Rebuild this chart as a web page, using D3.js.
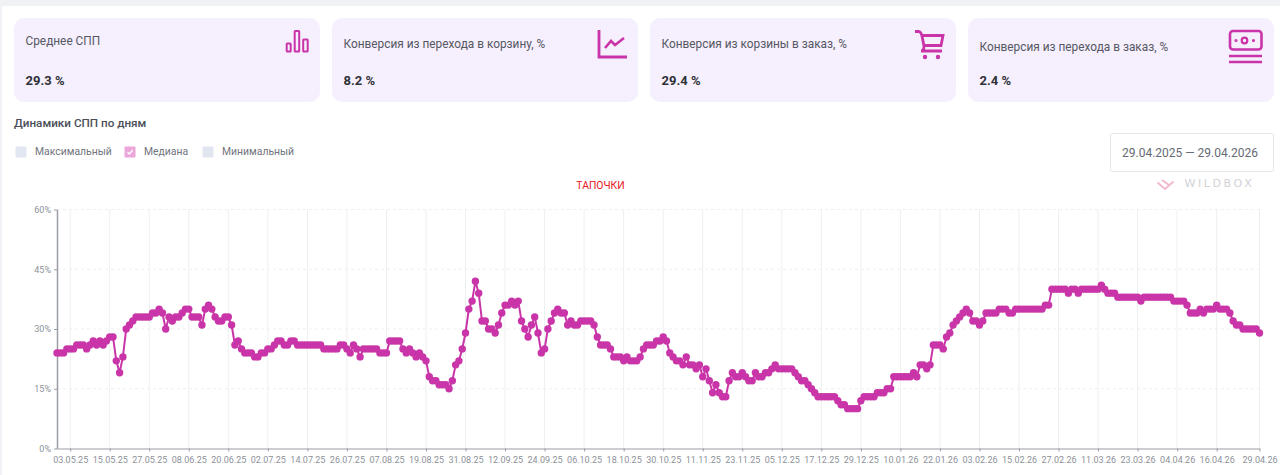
<!DOCTYPE html>
<html>
<head>
<meta charset="utf-8">
<script src="https://cdn.jsdelivr.net/npm/d3@7/dist/d3.min.js"></script>
<style>
html, body { margin: 0; padding: 0; background: #fff; overflow: hidden; }
text { font-family: Roboto, sans-serif; }
</style>
</head>
<body>
<div id="chart-area"></div>
<script>
var cardTitles = ["Среднее СПП", "Конверсия из перехода в корзину, %", "Конверсия из корзины в заказ, %", "Конверсия из перехода в заказ, %"];
var cardValues = ["29.3 %", "8.2 %", "29.4 %", "2.4 %"];
var legendNames = ["Максимальный", "Медиана", "Минимальный"];
var legendChecked = [false, true, false];
var yTicks = [0, 15, 30, 45, 60];
var tickLabels = ["03.05.25","15.05.25","27.05.25","08.06.25","20.06.25","02.07.25","14.07.25","26.07.25","07.08.25","19.08.25","31.08.25","12.09.25","24.09.25","06.10.25","18.10.25","30.10.25","11.11.25","23.11.25","05.12.25","17.12.25","29.12.25","10.01.26","22.01.26","03.02.26","15.02.26","27.02.26","11.03.26","23.03.26","04.04.26","16.04.26","29.04.26"];

// median per day, 29.04.25 - 29.04.26
var median = [
24,24,24,25,25,25,26,26,26,25,26,27,26,27,26,27,28,28,22,19,23,30,31,32,33,33,33,33,33,34,34,35,34,30,33,32,33,33,34,35,
35,33,33,33,31,35,36,35,33,32,32,33,33,31,26,27,25,24,24,24,23,23,24,24,25,25,26,27,27,26,26,27,27,26,26,26,26,26,26,26,
26,25,25,25,25,25,26,26,25,24,26,25,23,25,25,25,25,25,24,24,24,27,27,27,27,25,24,25,24,23,24,23,22,18,17,17,16,16,16,15,
17,21,22,25,29,35,37,42,39,32,32,30,30,29,31,34,36,36,37,36,37,32,30,28,31,33,29,24,25,30,32,34,35,34,34,31,32,31,31,32,
32,32,32,31,28,26,26,26,25,23,23,23,22,23,22,22,22,23,25,26,26,26,27,27,28,27,24,23,22,22,21,23,21,21,20,21,18,20,17,14,
16,14,13,13,17,19,18,18,19,18,17,17,19,18,18,19,19,20,21,20,20,20,20,20,19,18,17,17,16,15,14,13,13,13,13,13,13,12,11,11,
10,10,10,10,12,13,13,13,13,14,14,14,15,15,18,18,18,18,18,18,19,18,21,21,20,21,26,26,26,25,28,29,31,32,33,34,35,34,32,32,
31,32,34,34,34,34,35,35,35,34,34,35,35,35,35,35,35,35,35,35,36,36,40,40,40,40,40,39,40,40,39,40,40,40,40,40,40,41,40,39,
39,39,38,38,38,38,38,38,38,37,38,38,38,38,38,38,38,38,38,37,37,37,37,36,34,34,34,35,34,35,35,35,36,35,35,35,34,32,31,31,
30,30,30,30,30,29
];
var days = d3.timeDay.range(new Date(2025, 3, 29), new Date(2026, 3, 30));
var fmt = d3.timeFormat("%d.%m.%y");
var labels = days.map(fmt);

var pink = "#c935a8";

var svg = d3.select("#chart-area").append("svg")
    .attr("width", 1280)
    .attr("height", 475)
    .style("display", "block");

// page frame
svg.append("rect").attr("width", 1280).attr("height", 475).attr("fill", "#f0f2f6");
svg.append("rect").attr("x", 2).attr("y", 6).attr("width", 1278).attr("height", 469).attr("fill", "#fff");

// cards
var cardX = d3.scaleLinear().domain([0, 1]).range([14, 332]);
var titleY = [45, 48, 48, 51];
var cards = svg.selectAll(".card")
    .data(cardTitles)
    .enter().append("g")
    .attr("class", "card")
    .attr("transform", (d, i) => "translate(" + cardX(i) + ",18)");

cards.append("rect")
    .attr("width", 306)
    .attr("height", 84)
    .attr("rx", 10)
    .attr("fill", "#f6effe");

cards.append("text")
    .attr("x", 11.5)
    .attr("y", (d, i) => titleY[i] - 18)
    .attr("font-size", "11.85px")
    .attr("fill", "#555862")
    .text(d => d);

cards.append("text")
    .attr("x", 11.5)
    .attr("y", 67)
    .attr("font-size", "13px")
    .attr("font-weight", "700")
    .attr("fill", "#2f3137")
    .text((d, i) => cardValues[i]);

// card icons
var icon = svg.append("g").attr("fill", "none").attr("stroke", pink).attr("stroke-width", 2);
// bars
[[286.7, 43.5, 4, 8], [294.7, 31, 4.5, 20.5], [303.2, 39.5, 4.5, 12]].forEach(b => {
    icon.append("rect").attr("x", b[0]).attr("y", b[1]).attr("width", b[2]).attr("height", b[3]).attr("rx", 0.6);
});
// line chart
icon.append("path").attr("stroke-width", 2.8).attr("d", "M599 30V57H627");
icon.append("path").attr("stroke-width", 2.6).attr("d", "M605 48L611 41L615 45L624 38");
// cart
icon.append("path").attr("stroke-width", 2.8).attr("d", "M915 31.5H919Q921 32 922 36L924 46Q924 51 921 51H942");
icon.append("path").attr("stroke-width", 2.8).attr("d", "M922 35.5H943L941 45.5H924");
icon.append("circle").attr("cx", 925).attr("cy", 57).attr("r", 1.2).attr("fill", pink);
icon.append("circle").attr("cx", 938).attr("cy", 57).attr("r", 1.2).attr("fill", pink);
// money
icon.append("rect").attr("x", 1230).attr("y", 31).attr("width", 31.5).attr("height", 18.5).attr("rx", 3).attr("stroke-width", 2.6);
icon.append("circle").attr("cx", 1244.5).attr("cy", 40.5).attr("r", 2.8).attr("stroke-width", 2.2);
icon.append("circle").attr("cx", 1236).attr("cy", 40.5).attr("r", 0.6).attr("fill", pink);
icon.append("circle").attr("cx", 1253.5).attr("cy", 40.5).attr("r", 0.6).attr("fill", pink);
icon.append("path").attr("stroke-width", 2.6).attr("d", "M1229 56H1262M1229 62H1262");

// heading
svg.append("text")
    .attr("x", 14)
    .attr("y", 127)
    .attr("font-size", "11.7px")
    .attr("font-weight", "500")
    .attr("fill", "#4a4e59")
    .text("Динамики СПП по дням");

// legend
var legendX = [15.5, 124.5, 202.5];
var legend = svg.selectAll(".legend")
    .data(legendNames)
    .enter().append("g")
    .attr("class", "legend")
    .attr("transform", (d, i) => "translate(" + legendX[i] + ",146.5)");

legend.append("rect")
    .attr("width", 11)
    .attr("height", 11)
    .attr("rx", 1)
    .attr("fill", (d, i) => legendChecked[i] ? "#eba6da" : "#e2e6f0");

legend.filter((d, i) => legendChecked[i]).append("path")
    .attr("d", "M3 5.5L4.9 7.5L8.2 3.5")
    .attr("fill", "none")
    .attr("stroke", "#fff")
    .attr("stroke-width", 1.2);

legend.append("text")
    .attr("x", 19.5)
    .attr("y", 8.5)
    .attr("font-size", "10.4px")
    .attr("fill", "#70747e")
    .text(d => d);

// date picker
svg.append("rect")
    .attr("x", 1110.5)
    .attr("y", 133.5)
    .attr("width", 163)
    .attr("height", 38)
    .attr("rx", 2)
    .attr("fill", "#fff")
    .attr("stroke", "#e6e7ea");

svg.append("text")
    .attr("x", 1122)
    .attr("y", 156.5)
    .attr("font-size", "12px")
    .attr("fill", "#666a74")
    .text("29.04.2025 — 29.04.2026");

// watermark
svg.append("path")
    .attr("d", "M1157.5 182.5L1165 189L1173.5 181.5M1162 180L1169 185")
    .attr("fill", "none")
    .attr("stroke", "#f2b6cf")
    .attr("stroke-width", 1.8);

svg.append("text")
    .attr("x", 1184.5)
    .attr("y", 187.3)
    .style("font-family", "'DejaVu Sans', sans-serif")
    .attr("font-size", "11px")
    .attr("letter-spacing", "2.6px")
    .attr("fill", "#cfd2d6")
    .text("WILDBOX");

// chart title
svg.append("text")
    .attr("x", 600.5)
    .attr("y", 189)
    .attr("text-anchor", "middle")
    .attr("font-size", "10.4px")
    .attr("fill", "#e8171c")
    .text("ТАПОЧКИ");

// chart
var margin = {left: 57, right: 20.5, top: 209.5, bottom: 26.5};
var width = 1280 - margin.left - margin.right;
var height = 475 - margin.top - margin.bottom;
var g = svg.append("g")
    .attr("transform", "translate(" + margin.left + ", " + margin.top + ")");

var x = d3.scalePoint()
    .domain(labels)
    .range([0, width]);

var y = d3.scaleLinear()
    .domain([0, 60])
    .range([height, 0]);

g.selectAll(".vgrid")
    .data(tickLabels)
    .enter().append("line")
    .attr("class", "vgrid")
    .attr("x1", d => x(d))
    .attr("x2", d => x(d))
    .attr("y1", 0)
    .attr("y2", height)
    .attr("stroke", "#eeeff1");

g.selectAll(".hgrid")
    .data(yTicks.slice(1))
    .enter().append("line")
    .attr("class", "hgrid")
    .attr("x1", 0)
    .attr("x2", width)
    .attr("y1", d => y(d))
    .attr("y2", d => y(d))
    .attr("stroke", "#eeeff1")
    .attr("stroke-dasharray", "3 3");

var bottomAxis = d3.axisBottom(x)
    .tickValues(tickLabels)
    .tickSize(3)
    .tickSizeOuter(0);

var leftAxis = d3.axisLeft(y)
    .tickValues(yTicks)
    .tickFormat(d => d + "%")
    .tickSize(3)
    .tickSizeOuter(0);

var ax = g.append("g")
    .attr("transform", "translate(0, " + height + ")")
    .call(bottomAxis);

var ay = g.append("g").call(leftAxis);

[ax, ay].forEach(a => {
    a.selectAll("text")
        .attr("font-family", "Roboto, sans-serif")
        .attr("font-size", "9px")
        .attr("fill", "#8d9199");
    a.selectAll("line").attr("stroke", "#9a9da3");
    a.select(".domain").attr("stroke", "#9a9da3");
});
ay.select(".domain").attr("stroke-width", 1.5);
ax.selectAll("text").attr("dy", "0.9em");

var line = d3.line()
    .x((d, i) => x(labels[i]))
    .y(d => y(d));

g.append("path")
    .datum(median)
    .attr("d", line)
    .attr("fill", "none")
    .attr("stroke", pink)
    .attr("stroke-width", 2);

g.selectAll(".dot")
    .data(median)
    .enter().append("circle")
    .attr("class", "dot")
    .attr("cx", (d, i) => x(labels[i]))
    .attr("cy", d => y(d))
    .attr("r", 3.7)
    .attr("fill", pink);
</script>
</body>
</html>
